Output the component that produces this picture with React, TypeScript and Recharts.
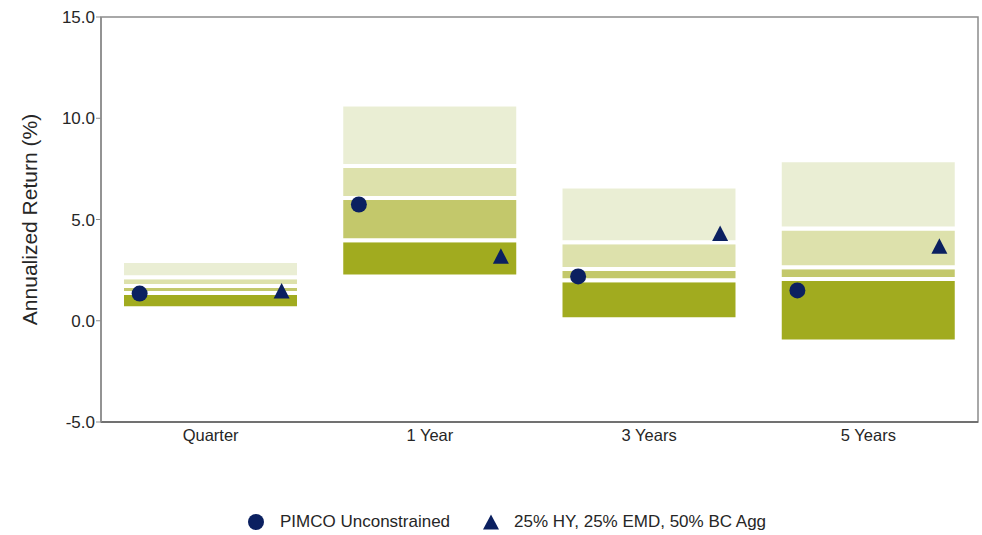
import { ComposedChart, Bar, Scatter, XAxis, YAxis, ReferenceArea } from 'recharts';

const periods = ['Quarter', '1 Year', '3 Years', '5 Years'];
// peer group percentile bands (5th / 25th / 50th / 75th / 95th)
const pct5 = [0.62, 2.19, 0.07, -1.02];
const pct25 = [1.37, 3.97, 2.0, 2.06];
const pct50 = [1.71, 6.06, 2.56, 2.64];
const pct75 = [2.15, 7.64, 3.88, 4.56];
const pct95 = [2.95, 10.68, 6.63, 7.92];
const pimco = [1.34, 5.74, 2.19, 1.5];
const blend = [1.48, 3.2, 4.32, 3.69];
const yTicks = [-5, 0, 5, 10, 15];

const NAVY = '#0b2060';
const FONT = '"Liberation Sans", Arial, sans-serif';

const data = periods.map((p, i) => ({
  period: p,
  base: pct5[i],
  q1: pct25[i] - pct5[i],
  q2: pct50[i] - pct25[i],
  q3: pct75[i] - pct50[i],
  q4: pct95[i] - pct75[i],
  pimco: pimco[i],
  blend: blend[i],
}));

const Dot = (props: any) => <circle cx={props.cx - 71} cy={props.cy} r={8} fill={NAVY} />;

const Tri = (props: any) => {
  const x = props.cx + 71;
  const y = props.cy;
  return <polygon points={`${x},${y - 7.8} ${x + 8},${y + 7.8} ${x - 8},${y + 7.8}`} fill={NAVY} />;
};

const App = () => {
  return (
    <div style={{ position: 'absolute', left: 0, top: 0, width: 982, height: 535, fontFamily: FONT }}>
      <ComposedChart width={982} height={535} data={data} margin={{ top: 17, right: 4, bottom: 83, left: 0 }}>
        <ReferenceArea y1={-5} y2={15} fill="none" stroke="#8c8c8c" strokeWidth={1.5} />
        <XAxis
          dataKey="period"
          height={30}
          axisLine={{ stroke: '#5f5f5f', strokeWidth: 1.5 }}
          tickLine={false}
          tickSize={0}
          tickMargin={7}
          tick={{ fill: '#262626', fontSize: 16.5, fontFamily: FONT }}
        />
        <YAxis
          width={101}
          domain={[-5, 15]}
          ticks={yTicks}
          tickFormatter={(v: number) => v.toFixed(1)}
          axisLine={{ stroke: '#8c8c8c', strokeWidth: 1.5 }}
          tickLine={{ stroke: '#8c8c8c' }}
          tickSize={5}
          tickMargin={1}
          tick={{ fill: '#262626', fontSize: 17, fontFamily: FONT }}
          label={{ value: 'Annualized Return (%)', angle: -90, position: 'center', dx: -21, fill: '#262626', fontSize: 21, fontFamily: FONT }}
        />
        <Bar dataKey="base" stackId="r" fill="transparent" barSize={177} isAnimationActive={false} />
        <Bar dataKey="q1" stackId="r" fill="#a1ab1f" stroke="#fff" strokeWidth={4} isAnimationActive={false} />
        <Bar dataKey="q2" stackId="r" fill="#c3c86b" stroke="#fff" strokeWidth={4} isAnimationActive={false} />
        <Bar dataKey="q3" stackId="r" fill="#dde1ac" stroke="#fff" strokeWidth={4} isAnimationActive={false} />
        <Bar dataKey="q4" stackId="r" fill="#eaeed4" stroke="#fff" strokeWidth={4} isAnimationActive={false} />
        <Scatter dataKey="pimco" shape={Dot} isAnimationActive={false} />
        <Scatter dataKey="blend" shape={Tri} isAnimationActive={false} />
      </ComposedChart>
      <div
        style={{
          position: 'absolute',
          top: 512,
          left: 247,
          display: 'flex',
          alignItems: 'center',
          fontSize: 17,
          color: '#262626',
          whiteSpace: 'nowrap',
        }}
      >
        <svg width={18} height={18} style={{ marginRight: 15 }}>
          <circle cx={9} cy={9} r={8} fill={NAVY} />
        </svg>
        <span>PIMCO Unconstrained</span>
        <svg width={18} height={18} style={{ marginLeft: 32, marginRight: 14 }}>
          <polygon points="9,1.5 17,16.5 1,16.5" fill={NAVY} />
        </svg>
        <span>25% HY, 25% EMD, 50% BC Agg</span>
      </div>
    </div>
  );
};

export default App;
